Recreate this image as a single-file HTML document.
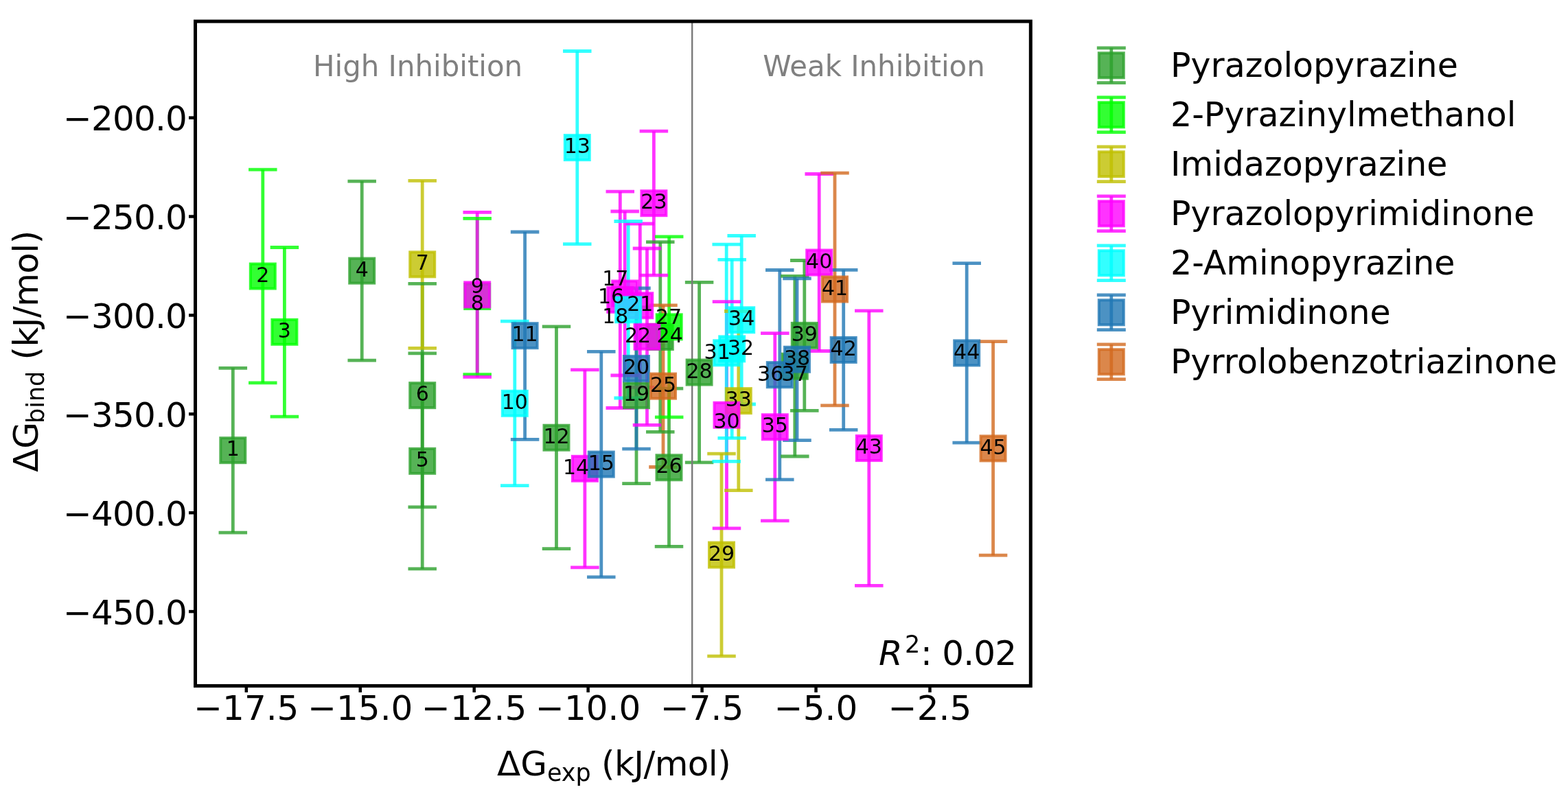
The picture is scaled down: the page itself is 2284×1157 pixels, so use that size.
<!DOCTYPE html>
<html><head><meta charset="utf-8"><title>Binding free energy vs experiment</title>
<style>
html,body{margin:0;padding:0;background:#fff;}
svg{display:block;}
text{font-family:"DejaVu Sans","Liberation Sans",sans-serif;}
</style></head><body>
<svg width="2284" height="1157" viewBox="0 0 2284 1157">
<rect x="0" y="0" width="2284" height="1157" fill="#ffffff"/>
<g stroke="#2ca02c" stroke-opacity="0.8" fill="none" stroke-width="4.8"><line x1="339.3" y1="536.3" x2="339.3" y2="776.1"/><line x1="527.2" y1="264.1" x2="527.2" y2="525.1"/><line x1="615.2" y1="514.8" x2="615.2" y2="828.9"/><line x1="615.2" y1="413.4" x2="615.2" y2="738.9"/><line x1="810.5" y1="475.9" x2="810.5" y2="799.6"/><line x1="927" y1="447.7" x2="927" y2="704.7"/><line x1="961.8" y1="352.7" x2="961.8" y2="629.3"/><line x1="974.5" y1="566.2" x2="974.5" y2="796.4"/><line x1="1018.6" y1="411.3" x2="1018.6" y2="673.8"/><line x1="1157.8" y1="402.4" x2="1157.8" y2="665"/><line x1="1171.8" y1="379.5" x2="1171.8" y2="598.3"/></g>
<g stroke="#00ff00" stroke-opacity="0.8" fill="none" stroke-width="4.8"><line x1="382.8" y1="247.2" x2="382.8" y2="557.8"/><line x1="414.4" y1="360.5" x2="414.4" y2="607.1"/><line x1="695.2" y1="318.4" x2="695.2" y2="545.6"/><line x1="974.7" y1="344.9" x2="974.7" y2="607.8"/></g>
<g stroke="#bfbf00" stroke-opacity="0.8" fill="none" stroke-width="4.8"><line x1="615.2" y1="263.3" x2="615.2" y2="507.3"/><line x1="1051" y1="661.1" x2="1051" y2="956.1"/><line x1="1075.8" y1="453.5" x2="1075.8" y2="714.7"/></g>
<g stroke="#ff00ff" stroke-opacity="0.8" fill="none" stroke-width="4.8"><line x1="695.2" y1="309.4" x2="695.2" y2="549.4"/><line x1="851.9" y1="538.9" x2="851.9" y2="826.8"/><line x1="903.3" y1="279.2" x2="903.3" y2="594.5"/><line x1="910.2" y1="308" x2="910.2" y2="547"/><line x1="932.3" y1="326" x2="932.3" y2="564.4"/><line x1="942.5" y1="362" x2="942.5" y2="619.3"/><line x1="952.4" y1="191.2" x2="952.4" y2="401.1"/><line x1="1058.5" y1="439.6" x2="1058.5" y2="769.9"/><line x1="1128.8" y1="485.6" x2="1128.8" y2="758.9"/><line x1="1193.2" y1="253.5" x2="1193.2" y2="511.5"/><line x1="1265.8" y1="452.9" x2="1265.8" y2="853.3"/></g>
<g stroke="#00ffff" stroke-opacity="0.8" fill="none" stroke-width="4.8"><line x1="749.8" y1="468.1" x2="749.8" y2="707.6"/><line x1="840.8" y1="74.5" x2="840.8" y2="355.6"/><line x1="915.2" y1="322.5" x2="915.2" y2="580"/><line x1="1058.2" y1="356.2" x2="1058.2" y2="672.3"/><line x1="1066.2" y1="378.3" x2="1066.2" y2="638.4"/><line x1="1080.2" y1="343.5" x2="1080.2" y2="589"/></g>
<g stroke="#1f77b4" stroke-opacity="0.8" fill="none" stroke-width="4.8"><line x1="764.6" y1="338" x2="764.6" y2="640.3"/><line x1="875.8" y1="512.4" x2="875.8" y2="840.8"/><line x1="927" y1="420" x2="927" y2="654.1"/><line x1="1135.8" y1="393.5" x2="1135.8" y2="698.8"/><line x1="1161" y1="405.9" x2="1161" y2="641.6"/><line x1="1228.7" y1="393.4" x2="1228.7" y2="626.4"/><line x1="1408.2" y1="383.7" x2="1408.2" y2="645.1"/></g>
<g stroke="#d2691e" stroke-opacity="0.8" fill="none" stroke-width="4.8"><line x1="966" y1="444.8" x2="966" y2="680.5"/><line x1="1216" y1="252.2" x2="1216" y2="590.8"/><line x1="1446.6" y1="497.7" x2="1446.6" y2="809.2"/></g>
<g stroke="#2ca02c" stroke-opacity="0.8" fill="none" stroke-width="4.8"><line x1="318.55" y1="536.3" x2="360.05" y2="536.3"/><line x1="318.55" y1="776.1" x2="360.05" y2="776.1"/><line x1="506.45" y1="264.1" x2="547.95" y2="264.1"/><line x1="506.45" y1="525.1" x2="547.95" y2="525.1"/><line x1="594.45" y1="514.8" x2="635.95" y2="514.8"/><line x1="594.45" y1="828.9" x2="635.95" y2="828.9"/><line x1="594.45" y1="413.4" x2="635.95" y2="413.4"/><line x1="594.45" y1="738.9" x2="635.95" y2="738.9"/><line x1="789.75" y1="475.9" x2="831.25" y2="475.9"/><line x1="789.75" y1="799.6" x2="831.25" y2="799.6"/><line x1="906.25" y1="447.7" x2="947.75" y2="447.7"/><line x1="906.25" y1="704.7" x2="947.75" y2="704.7"/><line x1="941.05" y1="352.7" x2="982.55" y2="352.7"/><line x1="941.05" y1="629.3" x2="982.55" y2="629.3"/><line x1="953.75" y1="566.2" x2="995.25" y2="566.2"/><line x1="953.75" y1="796.4" x2="995.25" y2="796.4"/><line x1="997.85" y1="411.3" x2="1039.35" y2="411.3"/><line x1="997.85" y1="673.8" x2="1039.35" y2="673.8"/><line x1="1137.05" y1="402.4" x2="1178.55" y2="402.4"/><line x1="1137.05" y1="665" x2="1178.55" y2="665"/><line x1="1151.05" y1="379.5" x2="1192.55" y2="379.5"/><line x1="1151.05" y1="598.3" x2="1192.55" y2="598.3"/></g>
<g stroke="#00ff00" stroke-opacity="0.8" fill="none" stroke-width="4.8"><line x1="362.05" y1="247.2" x2="403.55" y2="247.2"/><line x1="362.05" y1="557.8" x2="403.55" y2="557.8"/><line x1="393.65" y1="360.5" x2="435.15" y2="360.5"/><line x1="393.65" y1="607.1" x2="435.15" y2="607.1"/><line x1="674.45" y1="318.4" x2="715.95" y2="318.4"/><line x1="674.45" y1="545.6" x2="715.95" y2="545.6"/><line x1="953.95" y1="344.9" x2="995.45" y2="344.9"/><line x1="953.95" y1="607.8" x2="995.45" y2="607.8"/></g>
<g stroke="#bfbf00" stroke-opacity="0.8" fill="none" stroke-width="4.8"><line x1="594.45" y1="263.3" x2="635.95" y2="263.3"/><line x1="594.45" y1="507.3" x2="635.95" y2="507.3"/><line x1="1030.25" y1="661.1" x2="1071.75" y2="661.1"/><line x1="1030.25" y1="956.1" x2="1071.75" y2="956.1"/><line x1="1055.05" y1="453.5" x2="1096.55" y2="453.5"/><line x1="1055.05" y1="714.7" x2="1096.55" y2="714.7"/></g>
<g stroke="#ff00ff" stroke-opacity="0.8" fill="none" stroke-width="4.8"><line x1="674.45" y1="309.4" x2="715.95" y2="309.4"/><line x1="674.45" y1="549.4" x2="715.95" y2="549.4"/><line x1="831.15" y1="538.9" x2="872.65" y2="538.9"/><line x1="831.15" y1="826.8" x2="872.65" y2="826.8"/><line x1="882.55" y1="279.2" x2="924.05" y2="279.2"/><line x1="882.55" y1="594.5" x2="924.05" y2="594.5"/><line x1="889.45" y1="308" x2="930.95" y2="308"/><line x1="889.45" y1="547" x2="930.95" y2="547"/><line x1="911.55" y1="326" x2="953.05" y2="326"/><line x1="911.55" y1="564.4" x2="953.05" y2="564.4"/><line x1="921.75" y1="362" x2="963.25" y2="362"/><line x1="921.75" y1="619.3" x2="963.25" y2="619.3"/><line x1="931.65" y1="191.2" x2="973.15" y2="191.2"/><line x1="931.65" y1="401.1" x2="973.15" y2="401.1"/><line x1="1037.75" y1="439.6" x2="1079.25" y2="439.6"/><line x1="1037.75" y1="769.9" x2="1079.25" y2="769.9"/><line x1="1108.05" y1="485.6" x2="1149.55" y2="485.6"/><line x1="1108.05" y1="758.9" x2="1149.55" y2="758.9"/><line x1="1172.45" y1="253.5" x2="1213.95" y2="253.5"/><line x1="1172.45" y1="511.5" x2="1213.95" y2="511.5"/><line x1="1245.05" y1="452.9" x2="1286.55" y2="452.9"/><line x1="1245.05" y1="853.3" x2="1286.55" y2="853.3"/></g>
<g stroke="#00ffff" stroke-opacity="0.8" fill="none" stroke-width="4.8"><line x1="729.05" y1="468.1" x2="770.55" y2="468.1"/><line x1="729.05" y1="707.6" x2="770.55" y2="707.6"/><line x1="820.05" y1="74.5" x2="861.55" y2="74.5"/><line x1="820.05" y1="355.6" x2="861.55" y2="355.6"/><line x1="894.45" y1="322.5" x2="935.95" y2="322.5"/><line x1="894.45" y1="580" x2="935.95" y2="580"/><line x1="1037.45" y1="356.2" x2="1078.95" y2="356.2"/><line x1="1037.45" y1="672.3" x2="1078.95" y2="672.3"/><line x1="1045.45" y1="378.3" x2="1086.95" y2="378.3"/><line x1="1045.45" y1="638.4" x2="1086.95" y2="638.4"/><line x1="1059.45" y1="343.5" x2="1100.95" y2="343.5"/><line x1="1059.45" y1="589" x2="1100.95" y2="589"/></g>
<g stroke="#1f77b4" stroke-opacity="0.8" fill="none" stroke-width="4.8"><line x1="743.85" y1="338" x2="785.35" y2="338"/><line x1="743.85" y1="640.3" x2="785.35" y2="640.3"/><line x1="855.05" y1="512.4" x2="896.55" y2="512.4"/><line x1="855.05" y1="840.8" x2="896.55" y2="840.8"/><line x1="906.25" y1="420" x2="947.75" y2="420"/><line x1="906.25" y1="654.1" x2="947.75" y2="654.1"/><line x1="1115.05" y1="393.5" x2="1156.55" y2="393.5"/><line x1="1115.05" y1="698.8" x2="1156.55" y2="698.8"/><line x1="1140.25" y1="405.9" x2="1181.75" y2="405.9"/><line x1="1140.25" y1="641.6" x2="1181.75" y2="641.6"/><line x1="1207.95" y1="393.4" x2="1249.45" y2="393.4"/><line x1="1207.95" y1="626.4" x2="1249.45" y2="626.4"/><line x1="1387.45" y1="383.7" x2="1428.95" y2="383.7"/><line x1="1387.45" y1="645.1" x2="1428.95" y2="645.1"/></g>
<g stroke="#d2691e" stroke-opacity="0.8" fill="none" stroke-width="4.8"><line x1="945.25" y1="444.8" x2="986.75" y2="444.8"/><line x1="945.25" y1="680.5" x2="986.75" y2="680.5"/><line x1="1195.25" y1="252.2" x2="1236.75" y2="252.2"/><line x1="1195.25" y1="590.8" x2="1236.75" y2="590.8"/><line x1="1425.85" y1="497.7" x2="1467.35" y2="497.7"/><line x1="1425.85" y1="809.2" x2="1467.35" y2="809.2"/></g>
<line x1="1008.2" y1="31.1" x2="1008.2" y2="999.4" stroke="#7a7a7a" stroke-width="2.4"/>
<g fill="#2ca02c" fill-opacity="0.8" stroke="#2ca02c" stroke-opacity="0.8" stroke-width="4.0">
<rect x="321.3" y="638.2" width="36" height="36"/><rect x="509.2" y="376.6" width="36" height="36"/><rect x="597.2" y="653.85" width="36" height="36"/><rect x="597.2" y="558.15" width="36" height="36"/><rect x="792.5" y="619.75" width="36" height="36"/><rect x="909" y="558.2" width="36" height="36"/><rect x="943.8" y="473" width="36" height="36"/><rect x="956.5" y="663.3" width="36" height="36"/><rect x="1000.6" y="524.55" width="36" height="36"/><rect x="1139.8" y="515.7" width="36" height="36"/><rect x="1153.8" y="470.9" width="36" height="36"/>
</g>
<g fill="#00ff00" fill-opacity="0.8" stroke="#00ff00" stroke-opacity="0.8" stroke-width="4.0">
<rect x="364.8" y="384.5" width="36" height="36"/><rect x="396.4" y="465.8" width="36" height="36"/><rect x="677.2" y="414" width="36" height="36"/><rect x="956.7" y="458.35" width="36" height="36"/>
</g>
<g fill="#bfbf00" fill-opacity="0.8" stroke="#bfbf00" stroke-opacity="0.8" stroke-width="4.0">
<rect x="597.2" y="367.3" width="36" height="36"/><rect x="1033" y="790.6" width="36" height="36"/><rect x="1057.8" y="566.1" width="36" height="36"/>
</g>
<g fill="#ff00ff" fill-opacity="0.8" stroke="#ff00ff" stroke-opacity="0.8" stroke-width="4.0">
<rect x="677.2" y="411.4" width="36" height="36"/><rect x="833.9" y="664.85" width="36" height="36"/><rect x="885.3" y="418.85" width="36" height="36"/><rect x="892.2" y="409.5" width="36" height="36"/><rect x="914.3" y="427.2" width="36" height="36"/><rect x="924.5" y="472.65" width="36" height="36"/><rect x="934.4" y="278.15" width="36" height="36"/><rect x="1040.5" y="586.75" width="36" height="36"/><rect x="1110.8" y="604.25" width="36" height="36"/><rect x="1175.2" y="364.5" width="36" height="36"/><rect x="1247.8" y="635.1" width="36" height="36"/>
</g>
<g fill="#00ffff" fill-opacity="0.8" stroke="#00ffff" stroke-opacity="0.8" stroke-width="4.0">
<rect x="731.8" y="569.85" width="36" height="36"/><rect x="822.8" y="197.05" width="36" height="36"/><rect x="897.2" y="433.25" width="36" height="36"/><rect x="1040.2" y="496.25" width="36" height="36"/><rect x="1048.2" y="490.35" width="36" height="36"/><rect x="1062.2" y="448.25" width="36" height="36"/>
</g>
<g fill="#1f77b4" fill-opacity="0.8" stroke="#1f77b4" stroke-opacity="0.8" stroke-width="4.0">
<rect x="746.6" y="471.15" width="36" height="36"/><rect x="857.8" y="658.6" width="36" height="36"/><rect x="909" y="519.05" width="36" height="36"/><rect x="1117.8" y="528.15" width="36" height="36"/><rect x="1143" y="505.75" width="36" height="36"/><rect x="1210.7" y="491.9" width="36" height="36"/><rect x="1390.2" y="496.4" width="36" height="36"/>
</g>
<g fill="#d2691e" fill-opacity="0.8" stroke="#d2691e" stroke-opacity="0.8" stroke-width="4.0">
<rect x="948" y="544.65" width="36" height="36"/><rect x="1198" y="403.5" width="36" height="36"/><rect x="1428.6" y="635.45" width="36" height="36"/>
</g>
<g font-size="30" fill="#000" text-anchor="middle">
<text x="339.3" y="664.3">1</text><text x="382.8" y="410.6">2</text><text x="414.4" y="491.9">3</text><text x="527.2" y="402.7">4</text><text x="615.2" y="679.95">5</text><text x="615.2" y="584.25">6</text><text x="615.2" y="393.4">7</text><text x="695.4" y="452">8</text><text x="695.4" y="427.4">9</text><text x="749.8" y="595.95">10</text><text x="764.6" y="497.25">11</text><text x="810.5" y="645.85">12</text><text x="840.8" y="223.15">13</text><text x="839" y="690.7">14</text><text x="875.8" y="684.7">15</text><text x="890" y="441.8">16</text><text x="896.3" y="415.9">17</text><text x="896.3" y="471.2">18</text><text x="927" y="584.3">19</text><text x="927" y="545.15">20</text><text x="932.3" y="453.3">21</text><text x="929" y="499.3">22</text><text x="952.4" y="304.25">23</text><text x="975.7" y="499.3">24</text><text x="966" y="570.75">25</text><text x="974.5" y="689.4">26</text><text x="974" y="471.7">27</text><text x="1018.6" y="550.65">28</text><text x="1051" y="816.7">29</text><text x="1058.6" y="624.1">30</text><text x="1044.7" y="522.9">31</text><text x="1079" y="517">32</text><text x="1075.8" y="592.2">33</text><text x="1080.2" y="474.35">34</text><text x="1128.8" y="630.35">35</text><text x="1122.2" y="554.5">36</text><text x="1157.7" y="554.5">37</text><text x="1161" y="531.85">38</text><text x="1171.8" y="497">39</text><text x="1193.2" y="390.6">40</text><text x="1216" y="429.6">41</text><text x="1228.7" y="518">42</text><text x="1265.8" y="661.2">43</text><text x="1408.2" y="522.5">44</text><text x="1446.6" y="661.55">45</text>
</g>
<text x="608.6" y="110.6" font-size="41.9" fill="#808080" text-anchor="middle">High Inhibition</text>
<text x="1273" y="110.6" font-size="41.9" fill="#808080" text-anchor="middle">Weak Inhibition</text>
<text y="969.4" font-size="50" fill="#000"><tspan x="1280" font-style="italic">R</tspan><tspan x="1318" y="951" font-size="35">2</tspan><tspan x="1341" y="969.4" letter-spacing="-0.8">: 0.02</tspan></text>
<rect x="284.5" y="31.1" width="1216.8" height="968.3" fill="none" stroke="#000" stroke-width="5.0"/>
<g stroke="#000" stroke-width="4.5">
<line x1="275" y1="171.6" x2="284.5" y2="171.6"/><line x1="275" y1="315.5" x2="284.5" y2="315.5"/><line x1="275" y1="459.4" x2="284.5" y2="459.4"/><line x1="275" y1="603.3" x2="284.5" y2="603.3"/><line x1="275" y1="747.2" x2="284.5" y2="747.2"/><line x1="275" y1="891.1" x2="284.5" y2="891.1"/><line x1="358.8" y1="999.4" x2="358.8" y2="1008.9"/><line x1="524.75" y1="999.4" x2="524.75" y2="1008.9"/><line x1="690.7" y1="999.4" x2="690.7" y2="1008.9"/><line x1="856.65" y1="999.4" x2="856.65" y2="1008.9"/><line x1="1022.6" y1="999.4" x2="1022.6" y2="1008.9"/><line x1="1188.55" y1="999.4" x2="1188.55" y2="1008.9"/><line x1="1354.5" y1="999.4" x2="1354.5" y2="1008.9"/>
</g>
<g font-size="50" fill="#000">
<text x="272" y="190.1" text-anchor="end" letter-spacing="-0.82">−200.0</text><text x="272" y="334" text-anchor="end" letter-spacing="-0.82">−250.0</text><text x="272" y="477.9" text-anchor="end" letter-spacing="-0.82">−300.0</text><text x="272" y="621.8" text-anchor="end" letter-spacing="-0.82">−350.0</text><text x="272" y="765.7" text-anchor="end" letter-spacing="-0.82">−400.0</text><text x="272" y="909.6" text-anchor="end" letter-spacing="-0.82">−450.0</text><text x="358.8" y="1048.8" text-anchor="middle">−17.5</text><text x="524.75" y="1048.8" text-anchor="middle">−15.0</text><text x="690.7" y="1048.8" text-anchor="middle">−12.5</text><text x="856.65" y="1048.8" text-anchor="middle">−10.0</text><text x="1022.6" y="1048.8" text-anchor="middle">−7.5</text><text x="1188.55" y="1048.8" text-anchor="middle">−5.0</text><text x="1354.5" y="1048.8" text-anchor="middle">−2.5</text>
</g>
<text y="1129.7" font-size="50" fill="#000"><tspan x="724">ΔG</tspan><tspan font-size="35" dy="7.8">exp</tspan><tspan dy="-7.8" letter-spacing="-0.6"> (kJ/mol)</tspan></text>
<text transform="translate(55.1,688) rotate(-90)" font-size="50" fill="#000"><tspan x="0" y="0">ΔG</tspan><tspan font-size="35" dy="8.8" dx="-2">bind</tspan><tspan dy="-8.8" letter-spacing="-0.6" dx="1"> (kJ/mol)</tspan></text>
<g stroke="#2ca02c" stroke-opacity="0.8" fill="none"><line x1="1618.8" y1="69.95" x2="1618.8" y2="120.55" stroke-width="4.8"/><line x1="1597.8" y1="69.95" x2="1639.8" y2="69.95" stroke-width="4.8"/><line x1="1597.8" y1="120.55" x2="1639.8" y2="120.55" stroke-width="4.8"/></g><rect x="1600.8" y="77.25" width="36" height="36" fill="#2ca02c" fill-opacity="0.8" stroke="#2ca02c" stroke-opacity="0.8" stroke-width="4.0"/><text x="1705" y="112.25" font-size="49" fill="#000">Pyrazolopyrazine</text>
<g stroke="#00ff00" stroke-opacity="0.8" fill="none"><line x1="1618.8" y1="141.95" x2="1618.8" y2="192.55" stroke-width="4.8"/><line x1="1597.8" y1="141.95" x2="1639.8" y2="141.95" stroke-width="4.8"/><line x1="1597.8" y1="192.55" x2="1639.8" y2="192.55" stroke-width="4.8"/></g><rect x="1600.8" y="149.25" width="36" height="36" fill="#00ff00" fill-opacity="0.8" stroke="#00ff00" stroke-opacity="0.8" stroke-width="4.0"/><text x="1705" y="184.25" font-size="49" fill="#000">2-Pyrazinylmethanol</text>
<g stroke="#bfbf00" stroke-opacity="0.8" fill="none"><line x1="1618.8" y1="213.95" x2="1618.8" y2="264.55" stroke-width="4.8"/><line x1="1597.8" y1="213.95" x2="1639.8" y2="213.95" stroke-width="4.8"/><line x1="1597.8" y1="264.55" x2="1639.8" y2="264.55" stroke-width="4.8"/></g><rect x="1600.8" y="221.25" width="36" height="36" fill="#bfbf00" fill-opacity="0.8" stroke="#bfbf00" stroke-opacity="0.8" stroke-width="4.0"/><text x="1705" y="256.25" font-size="49" fill="#000">Imidazopyrazine</text>
<g stroke="#ff00ff" stroke-opacity="0.8" fill="none"><line x1="1618.8" y1="285.95" x2="1618.8" y2="336.55" stroke-width="4.8"/><line x1="1597.8" y1="285.95" x2="1639.8" y2="285.95" stroke-width="4.8"/><line x1="1597.8" y1="336.55" x2="1639.8" y2="336.55" stroke-width="4.8"/></g><rect x="1600.8" y="293.25" width="36" height="36" fill="#ff00ff" fill-opacity="0.8" stroke="#ff00ff" stroke-opacity="0.8" stroke-width="4.0"/><text x="1705" y="328.25" font-size="49" fill="#000">Pyrazolopyrimidinone</text>
<g stroke="#00ffff" stroke-opacity="0.8" fill="none"><line x1="1618.8" y1="357.95" x2="1618.8" y2="408.55" stroke-width="4.8"/><line x1="1597.8" y1="357.95" x2="1639.8" y2="357.95" stroke-width="4.8"/><line x1="1597.8" y1="408.55" x2="1639.8" y2="408.55" stroke-width="4.8"/></g><rect x="1600.8" y="365.25" width="36" height="36" fill="#00ffff" fill-opacity="0.8" stroke="#00ffff" stroke-opacity="0.8" stroke-width="4.0"/><text x="1705" y="400.25" font-size="49" fill="#000">2-Aminopyrazine</text>
<g stroke="#1f77b4" stroke-opacity="0.8" fill="none"><line x1="1618.8" y1="429.95" x2="1618.8" y2="480.55" stroke-width="4.8"/><line x1="1597.8" y1="429.95" x2="1639.8" y2="429.95" stroke-width="4.8"/><line x1="1597.8" y1="480.55" x2="1639.8" y2="480.55" stroke-width="4.8"/></g><rect x="1600.8" y="437.25" width="36" height="36" fill="#1f77b4" fill-opacity="0.8" stroke="#1f77b4" stroke-opacity="0.8" stroke-width="4.0"/><text x="1705" y="472.25" font-size="49" fill="#000">Pyrimidinone</text>
<g stroke="#d2691e" stroke-opacity="0.8" fill="none"><line x1="1618.8" y1="501.95" x2="1618.8" y2="552.55" stroke-width="4.8"/><line x1="1597.8" y1="501.95" x2="1639.8" y2="501.95" stroke-width="4.8"/><line x1="1597.8" y1="552.55" x2="1639.8" y2="552.55" stroke-width="4.8"/></g><rect x="1600.8" y="509.25" width="36" height="36" fill="#d2691e" fill-opacity="0.8" stroke="#d2691e" stroke-opacity="0.8" stroke-width="4.0"/><text x="1705" y="544.25" font-size="49" fill="#000">Pyrrolobenzotriazinone</text>
</svg>
</body></html>
